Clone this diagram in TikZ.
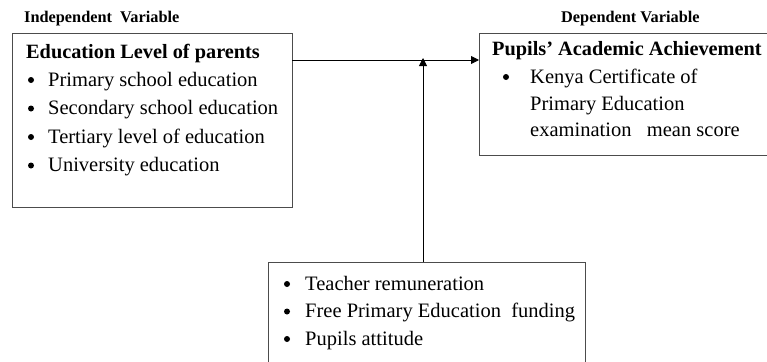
\documentclass[tikz,border=0pt]{standalone}
\usepackage{fontspec}
\setmainfont{Liberation Serif}
\usetikzlibrary{arrows.meta}

\tikzset{
  box/.style={draw=black!70, line width=0.9pt, anchor=north west, inner sep=0pt},
  head/.style={font=\fontsize{16.3}{18}\selectfont\bfseries, anchor=base west, inner sep=0pt},
  title/.style={font=\fontsize{20.3}{22}\selectfont\bfseries, anchor=base west, inner sep=0pt},
  item/.style={font=\fontsize{20.5}{22}\selectfont, anchor=base west, inner sep=0pt},
  link/.style={line width=0.9pt, -{Triangle[length=8pt,width=8pt]}}
}

\begin{document}
\begin{tikzpicture}[x=1pt,y=-1pt]
\useasboundingbox (0,0) rectangle (767,361);

% variable headings
\node[head] (hind) at (24,23) {Independent\ \ Variable};
\node[head] (hdep) at (561,23) {Dependent Variable};

% independent variable box
\node[box, minimum width=280pt, minimum height=174pt] (indep) at (12,33) {};
\node[title] (indt) at (26,59) {Education Level of parents};
\foreach \txt [count=\i] in {Primary school education, Secondary school education,
    Tertiary level of education, University education} {
  \fill (31,80+28.5*\i-28.5) circle (3);
  \node[item] (ind\i) at (48,86+28.5*\i-28.5) {\txt};
}

% dependent variable box
\node[box, minimum width=289pt, minimum height=122pt] (dep) at (479,33) {};
\node[title] (dept) at (492,56) {Pupils’ Academic Achievement};
\fill (506,77) circle (3);
\node[item] (dep1) at (530,83) {Kenya Certificate of};
\node[item] (dep2) at (530,110) {Primary Education};
\node[item] (dep3) at (530,136) {examination\ \ \ mean score};

% intervening variables box
\node[box, minimum width=317pt, minimum height=110pt] (mod) at (268,262) {};
\foreach \txt [count=\i] in {Teacher remuneration, Free Primary Education\ \ funding,
    Pupils attitude} {
  \fill (287,284+27.5*\i-27.5) circle (3);
  \node[item] (mod\i) at (305,290+27.5*\i-27.5) {\txt};
}

% connectors
\coordinate (out) at (292,60);
\coordinate (joint) at (423,60);
\draw[link] (out) -- (out -| dep.west);
\draw[link] (mod.north -| joint) -- ([yshift=2pt]joint);
\end{tikzpicture}
\end{document}
